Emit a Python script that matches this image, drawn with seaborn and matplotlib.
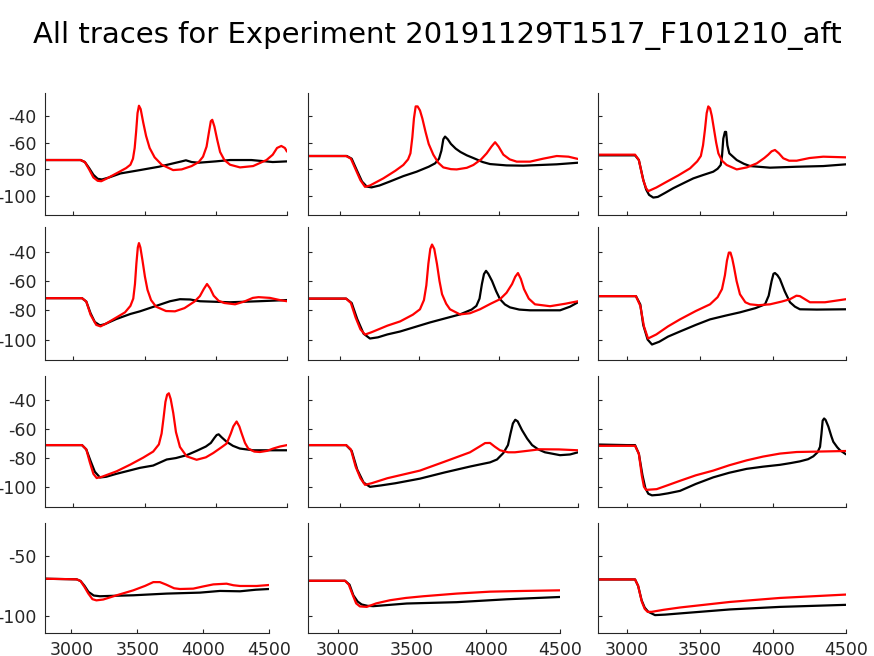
import matplotlib
matplotlib.use("Agg")
import matplotlib.pyplot as plt
import seaborn as sns

sns.set_style("ticks")
plt.rcParams['font.family'] = ['DejaVu Sans']
plt.rcParams['axes.unicode_minus'] = False

# Traces per panel: time (ms) and voltage (mV), black = recorded, red = model
# row 1
p11_t_k = [2800, 3050, 3080, 3110, 3140, 3170, 3200, 3250, 3330, 3467, 3600, 3700, 3760, 3790, 3830, 3880,
           4000, 4100, 4250, 4400, 4500]
p11_v_k = [-73, -73, -74.5, -79, -84, -87, -87.5, -86, -83, -80.5, -78, -75.5, -74, -73.2, -74.5, -75,
           -74, -73, -73, -74.5, -74]
p11_t_r = [2800, 3050, 3080, 3110, 3140, 3170, 3195, 3230, 3306, 3370, 3400, 3418, 3430, 3440, 3450, 3460,
           3472, 3490, 3510, 3535, 3570, 3620, 3700, 3760, 3830, 3880, 3910, 3935, 3952, 3965, 3975, 3990,
           4010, 4030, 4060, 4100, 4170, 4262, 4356, 4400, 4430, 4460, 4485, 4500]
p11_v_r = [-73, -73, -74.5, -80, -86, -88.5, -88.8, -87, -82.7, -79, -76.5, -72, -64, -52, -38, -32.5,
           -35, -45, -55, -64, -71, -76.5, -80.5, -80, -77.5, -74.5, -70.5, -63, -52, -44, -43, -48,
           -58, -67, -73, -76.5, -78.5, -77.5, -73, -69, -64, -62.5, -64, -66.7]

p12_t_k = [2800, 3044, 3075, 3107, 3140, 3170, 3200, 3250, 3316, 3400, 3484, 3560, 3600, 3625, 3640, 3652,
           3663, 3680, 3700, 3730, 3760, 3800, 3841, 3900, 3946, 4050, 4156, 4366, 4500]
p12_v_k = [-70, -70, -72, -80.5, -89, -92.8, -93.4, -92, -89, -85, -81.7, -78, -75.5, -72, -66, -57.5,
           -55.5, -57.5, -61, -64.5, -67, -69.5, -71.5, -74.5, -76, -77, -77.2, -76.2, -75]
p12_t_r = [2800, 3040, 3070, 3100, 3130, 3159, 3190, 3274, 3350, 3400, 3430, 3445, 3457, 3467, 3478, 3490,
           3505, 3520, 3540, 3560, 3589, 3620, 3652, 3700, 3736, 3800, 3841, 3890, 3925, 3955, 3978, 4000,
           4030, 4070, 4114, 4198, 4280, 4366, 4440, 4500]
p12_v_r = [-70, -70, -72, -80, -88, -93, -92, -86.7, -81, -76.7, -72.5, -68, -56, -42, -33, -33,
           -36, -42, -52, -61, -69, -75, -78.5, -79.8, -80, -78.8, -76.7, -72.5, -68, -63, -59.7, -63,
           -69, -72.5, -74.2, -74.2, -72, -70, -70.5, -72.2]

p13_t_k = [2800, 3054, 3080, 3111, 3130, 3150, 3179, 3210, 3260, 3316, 3400, 3453, 3520, 3590, 3620, 3641,
           3650, 3659, 3670, 3678, 3687, 3700, 3751, 3800, 3842, 3979, 4162, 4344, 4500]
p13_v_k = [-69.5, -69.5, -73, -88, -95, -99, -101, -100.5, -97.5, -94, -89.5, -86.7, -84.2, -81.7, -79.5, -76.7,
           -70, -57, -52, -52, -62, -68, -73, -75.8, -77.5, -78.7, -78, -77.5, -76.2]
p13_t_r = [2800, 3054, 3080, 3110, 3130, 3145, 3200, 3271, 3350, 3431, 3480, 3505, 3520, 3533, 3545, 3556,
           3568, 3580, 3595, 3610, 3625, 3650, 3682, 3751, 3820, 3888, 3940, 3967, 3990, 4013, 4040, 4070,
           4110, 4162, 4250, 4344, 4500]
p13_v_r = [-69, -69, -73, -88, -94, -96.2, -93.5, -89.2, -84.5, -79.2, -74, -70, -62, -50.5, -38, -33,
           -34.5, -40, -50, -60, -68, -73.5, -76.7, -80, -78.5, -75.5, -71.5, -69, -66.5, -65.5, -68, -71.7,
           -73.5, -73.5, -71.5, -70.5, -71]

# row 2
p21_t_k = [2800, 3060, 3090, 3120, 3150, 3186, 3220, 3300, 3400, 3467, 3580, 3678, 3748, 3820, 3888, 4099,
           4300, 4500]
p21_v_k = [-71.7, -71.7, -74, -82, -88, -90.3, -89.5, -86, -82.5, -80.7, -77, -73.8, -72.4, -72.6, -73.8, -74.5,
           -73.8, -73]
p21_t_r = [2800, 3060, 3090, 3120, 3160, 3190, 3230, 3300, 3362, 3400, 3420, 3432, 3442, 3452, 3460, 3470,
           3485, 3502, 3520, 3545, 3580, 3650, 3713, 3780, 3850, 3888, 3915, 3938, 3960, 3985, 4020, 4060,
           4135, 4200, 4260, 4300, 4380, 4450, 4500]
p21_v_r = [-71.7, -71.7, -74, -83, -90, -91, -89, -85, -81.4, -77, -72, -62, -48, -37, -34, -37,
           -46, -57, -66, -73, -77.5, -80.5, -80.7, -78.5, -74, -70.3, -65.5, -62, -65, -70, -73.5, -75,
           -75.9, -74, -71.5, -71, -71.5, -73, -73.8]

p22_t_k = [2800, 3040, 3075, 3110, 3150, 3190, 3240, 3300, 3380, 3568, 3757, 3830, 3860, 3880, 3895, 3908,
           3921, 3935, 3959, 3985, 4009, 4040, 4072, 4130, 4198, 4387, 4450, 4500]
p22_v_k = [-72, -72, -75, -86, -96, -99.3, -98.5, -96.5, -94.5, -88.3, -82.8, -79.5, -77, -72, -62, -55.2,
           -53, -55, -60, -67, -72.4, -76, -78, -79.5, -80, -80, -77.5, -74.5]
p22_t_r = [2800, 3040, 3070, 3100, 3130, 3159, 3200, 3300, 3380, 3460, 3505, 3530, 3545, 3558, 3570, 3581,
           3595, 3612, 3628, 3644, 3670, 3694, 3757, 3820, 3883, 3950, 4009, 4050, 4085, 4105, 4122, 4140,
           4160, 4190, 4229, 4324, 4420, 4500]
p22_v_r = [-72, -72, -75, -85, -93, -96.6, -95, -90.5, -87.6, -83, -79.3, -73, -63, -48, -38, -35,
           -38, -48.3, -60, -69, -75.5, -79.3, -82.8, -82, -79.3, -75.5, -72.4, -68, -62, -57, -54.5, -58.5,
           -65.5, -72, -75.9, -77.2, -75.5, -73.8]

p23_t_k = [2800, 3060, 3090, 3110, 3140, 3170, 3220, 3280, 3362, 3470, 3568, 3680, 3773, 3880, 3945, 3970,
           3990, 4003, 4013, 4030, 4047, 4080, 4116, 4150, 4184, 4300, 4500]
p23_v_k = [-70.3, -70.3, -76, -90, -100, -103.4, -101.5, -98, -94.5, -90, -86.2, -83.5, -81.4, -78.5, -75.9, -70,
           -60, -55, -54.5, -56, -58.6, -67, -74.5, -77.5, -79.3, -79.5, -79.3]
p23_t_r = [2800, 3060, 3090, 3115, 3143, 3200, 3280, 3362, 3470, 3568, 3620, 3650, 3670, 3684, 3697, 3708,
           3720, 3732, 3750, 3773, 3810, 3842, 3900, 3979, 4060, 4116, 4160, 4184, 4220, 4253, 4356, 4500]
p23_v_r = [-70.3, -70.3, -77, -91, -99.3, -96.5, -91, -86.2, -80.5, -75.9, -71, -65.5, -56, -46, -40.5, -40.5,
           -44.5, -50.3, -60, -69, -74.5, -75.9, -76.5, -75.9, -74, -72.4, -70, -70.3, -72.5, -74.5, -74.5, -72.4]

# row 3
p31_t_k = [2800, 3060, 3090, 3120, 3150, 3186, 3230, 3300, 3400, 3467, 3560, 3655, 3720, 3795, 3865, 3930,
           3965, 3990, 4006, 4020, 4040, 4076, 4120, 4169, 4263, 4500]
p31_v_k = [-71, -71, -74, -82, -89.5, -93.5, -93, -91, -88.5, -86.8, -85.2, -81, -80, -78, -75, -72,
           -69.5, -66, -64, -63.5, -65.5, -68.7, -71.5, -73.4, -74.6, -74.6]
p31_t_r = [2800, 3060, 3090, 3115, 3140, 3163, 3200, 3303, 3400, 3490, 3560, 3600, 3619, 3633, 3646, 3658,
           3670, 3683, 3701, 3720, 3748, 3795, 3865, 3930, 3982, 4040, 4076, 4105, 4123, 4146, 4165, 4181,
           4205, 4228, 4270, 4310, 4360, 4403, 4450, 4500]
p31_v_r = [-71, -71, -74, -83, -91, -93.9, -93, -89.2, -84.5, -79.7, -75.5, -70.5, -63, -52, -41, -36,
           -35, -39, -48.7, -62, -72.3, -78.8, -81.2, -79.5, -76.5, -72.5, -69.9, -63, -58, -54.6, -58, -62.8,
           -69.5, -73.4, -75.5, -75.8, -75, -73.4, -72, -71]

p32_t_k = [2800, 3040, 3075, 3110, 3150, 3190, 3260, 3350, 3505, 3660, 3820, 3880, 3946, 3990, 4030, 4059,
           4075, 4090, 4105, 4120, 4147, 4180, 4211, 4250, 4292, 4387, 4450, 4500]
p32_v_k = [-71, -71, -75, -88, -97, -100, -99, -97.5, -94.3, -90, -85.9, -84.5, -83, -81, -76.5, -71,
           -63, -56, -53.4, -54.5, -60.5, -66.5, -71, -74, -76, -78, -77.5, -76]
p32_t_r = [2800, 3040, 3070, 3100, 3130, 3159, 3200, 3300, 3505, 3660, 3820, 3880, 3915, 3946, 3975, 4009,
           4060, 4103, 4180, 4261, 4380, 4500]
p32_v_r = [-71, -71, -74, -86, -94, -98.6, -97.5, -94, -88.7, -82.5, -76, -72, -69.6, -69.5, -72, -74.6,
           -76, -76, -75, -73.9, -74, -74.6]

p33_t_k = [2800, 3000, 3054, 3080, 3105, 3125, 3145, 3170, 3220, 3280, 3362, 3470, 3590, 3700, 3819, 3930,
           4047, 4120, 4184, 4240, 4276, 4305, 4322, 4332, 4340, 4350, 4360, 4379, 4400, 4413, 4440, 4459,
           4500]
p33_v_k = [-70.6, -71, -71, -77, -92, -101, -104.8, -105.9, -105.5, -104.5, -102.8, -98, -93.4, -90.2, -87.5, -86,
           -84.7, -83.5, -82.3, -80.8, -78.8, -76, -72.2, -63, -54, -52.5, -53.5, -58.1, -65, -68.7, -72.5, -74.6,
           -77.4]
p33_t_r = [2800, 3054, 3080, 3100, 3115, 3130, 3202, 3280, 3362, 3470, 3590, 3700, 3819, 3930, 4047, 4162, 4500]
p33_v_r = [-71.5, -71.5, -77, -92, -100, -102.1, -101.6, -98.8, -95.8, -92, -88.7, -85, -81.6, -79, -76.9,
           -75.8, -75.1]

# row 4
p41_t_k = [2800, 3040, 3070, 3100, 3130, 3170, 3217, 3300, 3470, 3723, 3976, 4128, 4280, 4400, 4500]
p41_v_k = [-69.1, -69.6, -71, -75, -80, -83, -83.6, -83.3, -82.8, -81.4, -80.6, -79.2, -79.5, -78.2, -77.6]
p41_t_r = [2800, 3040, 3070, 3100, 3129, 3160, 3190, 3242, 3344, 3470, 3560, 3622, 3672, 3720, 3780, 3824,
           3925, 4000, 4077, 4178, 4230, 4280, 4406, 4500]
p41_v_r = [-69.1, -69.6, -71, -76, -81.4, -86, -87, -86.3, -82.8, -78.7, -75, -71.9, -71.9, -74, -77, -77.6,
           -77.3, -75.5, -73.8, -73.2, -74.5, -75.1, -75.1, -74.3]

p42_t_k = [2800, 3050, 3080, 3106, 3135, 3162, 3200, 3241, 3466, 3803, 4141, 4500]
p42_v_k = [-70.8, -70.8, -74, -82.8, -88, -90.4, -91.5, -91.8, -89.6, -88.5, -86.1, -84.2]
p42_t_r = [2800, 3050, 3075, 3100, 3125, 3150, 3196, 3260, 3353, 3460, 3578, 3803, 4028, 4253, 4500]
p42_v_r = [-70.8, -70.8, -74, -82, -89.5, -92, -92.4, -89.5, -86.9, -85, -83.6, -81.4, -79.8, -79.2, -78.7]

p43_t_k = [2800, 3054, 3075, 3099, 3120, 3145, 3191, 3260, 3362, 3705, 4047, 4500]
p43_v_k = [-69.7, -69.7, -75, -86.9, -93, -96.5, -99.2, -98.8, -97.8, -94.5, -92.4, -90.7]
p43_t_r = [2800, 3054, 3075, 3100, 3120, 3140, 3168, 3250, 3362, 3705, 4047, 4500]
p43_v_r = [-69.7, -69.7, -75, -88, -94, -96.5, -96.5, -94.8, -92.9, -88.3, -85, -82.2]

panels = [
    [(p11_t_k, p11_v_k, p11_t_r, p11_v_r), (p12_t_k, p12_v_k, p12_t_r, p12_v_r), (p13_t_k, p13_v_k, p13_t_r, p13_v_r)],
    [(p21_t_k, p21_v_k, p21_t_r, p21_v_r), (p22_t_k, p22_v_k, p22_t_r, p22_v_r), (p23_t_k, p23_v_k, p23_t_r, p23_v_r)],
    [(p31_t_k, p31_v_k, p31_t_r, p31_v_r), (p32_t_k, p32_v_k, p32_t_r, p32_v_r), (p33_t_k, p33_v_k, p33_t_r, p33_v_r)],
    [(p41_t_k, p41_v_k, p41_t_r, p41_v_r), (p42_t_k, p42_v_k, p42_t_r, p42_v_r), (p43_t_k, p43_v_k, p43_t_r, p43_v_r)],
]

x_ticks = [3000, 3500, 4000, 4500]
y_ticks_top = [-40, -60, -80, -100]
y_ticks_bottom = [-50, -100]
title = "All traces for Experiment 20191129T1517_F101210_aft"

W, H = 874, 656
fig = plt.figure(figsize=(W / 100, H / 100), dpi=100)

# axes boxes in pixels (MATLAB-like uneven layout)
row_y = [(93, 215), (227, 360), (376, 507), (523, 633)]
col_x = [[(45, 287), (308, 578), (598, 846)]] * 3 + [[(45, 269), (308, 560), (598, 846)]]

for i in range(4):
    for j in range(3):
        x0, x1 = col_x[i][j]
        y0, y1 = row_y[i]
        ax = fig.add_axes([x0 / W, 1 - y1 / H, (x1 - x0) / W, (y1 - y0) / H])
        tk, vk, tr, vr = panels[i][j]
        sns.lineplot(x=tk, y=vk, color="black", linewidth=1.6, ax=ax)
        sns.lineplot(x=tr, y=vr, color="red", linewidth=1.6, ax=ax)
        ax.set_xlim(2800, 4500)
        ax.set_ylim(-114, -23)
        ax.set_xticks(x_ticks)
        ax.set_yticks(y_ticks_bottom if i == 3 else y_ticks_top)
        ax.tick_params(direction="in", length=3, width=0.8, labelsize=12.5,
                       labelcolor="#262626", pad=6)
        if j != 0:
            ax.set_yticklabels([])
        if i != 3:
            ax.set_xticklabels([])
        ax.set_xlabel("")
        ax.set_ylabel("")
        sns.despine(ax=ax)
        for s in ["left", "bottom"]:
            ax.spines[s].set_linewidth(0.8)
            ax.spines[s].set_color("#262626")

fig.text(0.5, 1 - 35 / H, title, ha="center", va="center", fontsize=21, color="black")

fig.savefig("out.png", dpi=100)
